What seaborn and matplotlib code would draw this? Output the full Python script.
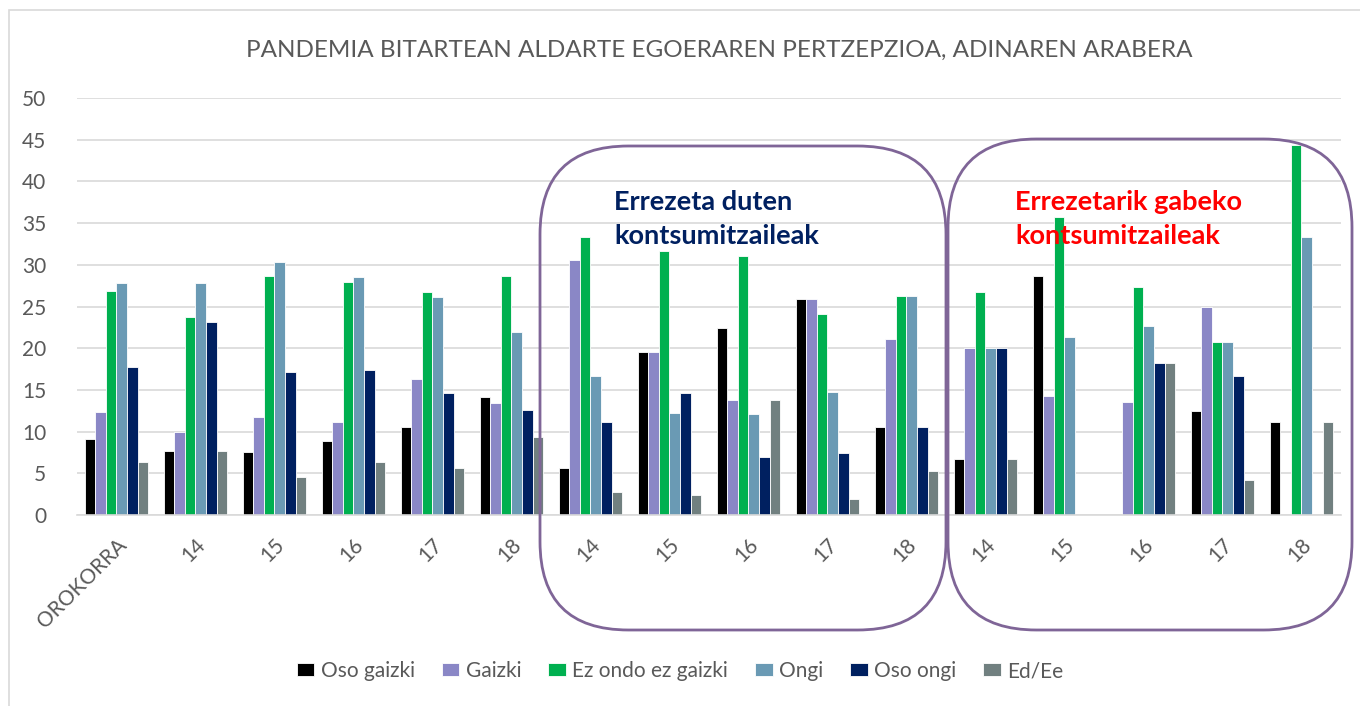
import matplotlib
matplotlib.use("Agg")
import matplotlib.pyplot as plt
from matplotlib.patches import FancyBboxPatch, Rectangle
import numpy as np
import pandas as pd
import seaborn as sns

# Datos
etiquetas = ["OROKORRA", "14", "15", "16", "17", "18",
             "14", "15", "16", "17", "18",
             "14", "15", "16", "17", "18"]
series = ["Oso gaizki", "Gaizki", "Ez ondo ez gaizki", "Ongi", "Oso ongi", "Ed/Ee"]

oso_gaizki = [9.1, 7.7, 7.6, 8.9, 10.5, 14.1, 5.6, 19.5, 22.4, 25.9, 10.5, 6.7, 28.6, 0.0, 12.5, 11.1]
gaizki = [12.3, 10.0, 11.7, 11.1, 16.3, 13.4, 30.6, 19.5, 13.8, 25.9, 21.1, 20.0, 14.3, 13.6, 25.0, 0.0]
ez_ondo = [26.9, 23.8, 28.7, 27.9, 26.7, 28.6, 33.3, 31.7, 31.0, 24.1, 26.3, 26.7, 35.7, 27.3, 20.8, 44.4]
ongi = [27.8, 27.8, 30.3, 28.5, 26.2, 21.9, 16.7, 12.2, 12.1, 14.8, 26.3, 20.0, 21.4, 22.7, 20.8, 33.3]
oso_ongi = [17.7, 23.1, 17.1, 17.4, 14.6, 12.6, 11.1, 14.6, 6.9, 7.4, 10.5, 20.0, 0.0, 18.2, 16.7, 0.0]
ed_ee = [6.3, 7.7, 4.6, 6.4, 5.6, 9.3, 2.8, 2.4, 13.8, 1.9, 5.3, 6.7, 0.0, 18.2, 4.2, 11.1]

koloreak = ["#000000", "#8A87C6", "#00B050", "#6A9AB4", "#002060", "#718080"]

# Tabla larga para seaborn
ids = [f"g{i}" for i in range(len(etiquetas))]
balioak = [oso_gaizki, gaizki, ez_ondo, ongi, oso_ongi, ed_ee]
df = pd.DataFrame({
    "taldea": np.tile(ids, len(series)),
    "serie": np.repeat(series, len(ids)),
    "balioa": np.concatenate(balioak),
})

sns.set_style("white")
plt.rcParams["font.family"] = ["Lato", "DejaVu Sans"]

fig = plt.figure(figsize=(13.6, 7.06), dpi=100)
ax = fig.add_axes([0.0566, 0.2705, 0.9294, 0.5907])

sns.barplot(data=df, x="taldea", y="balioa", hue="serie", order=ids,
            hue_order=series, palette=koloreak, saturation=1, width=0.8, gap=0,
            edgecolor="white", linewidth=0.6, legend=True, ax=ax)

ax.set_ylim(0, 50)
ax.set_xlim(-0.5, len(ids) - 0.5)
ax.set_yticks(range(0, 51, 5))
ax.yaxis.grid(True, color="#D9D9D9", linewidth=1.2)
ax.set_axisbelow(True)
for s in ["top", "right", "left"]:
    ax.spines[s].set_visible(False)
ax.spines["bottom"].set_color("#D9D9D9")
ax.spines["bottom"].set_linewidth(1.2)
ax.set_xlabel("")
ax.set_ylabel("")
ax.set_xticks(range(len(ids)))
ax.set_xticklabels(etiquetas, rotation=45, ha="right", rotation_mode="anchor")
ax.tick_params(axis="both", length=0, labelsize=15, colors="#595959")
ax.tick_params(axis="x", pad=14)
ax.tick_params(axis="y", pad=22)

ax.legend(loc="center", frameon=False, ncol=6, fontsize=15, handlelength=0.85,
          handleheight=0.6, handletextpad=0.3, columnspacing=1.3, labelcolor="#595959")
leg = ax.get_legend()
leg.set_bbox_to_anchor((0.5, 1 - 671 / 706), transform=fig.transFigure)

fig.text(0.529, 1 - 50 / 706, "PANDEMIA BITARTEAN ALDARTE EGOERAREN PERTZEPZIOA, ADINAREN ARABERA",
         ha="center", va="center", fontsize=17.5, color="#595959")

# Kanpoko ertza
fig.patches.append(Rectangle((9 / 1360, -0.1), 1.2, 1 - 10 / 706 + 0.1,
                             transform=fig.transFigure, fill=False,
                             edgecolor="#D9D9D9", linewidth=1.2))

# Talde laukiak
def laukia(x0, y0, x1, y1):
    w = (x1 - x0) / 1360
    h = (y1 - y0) / 706
    p = FancyBboxPatch((x0 / 1360, 1 - y1 / 706), w, h,
                       boxstyle="round,pad=0,rounding_size=0.065",
                       mutation_aspect=1360 / 706,
                       transform=fig.transFigure, fill=False,
                       edgecolor="#7F6597", linewidth=2)
    fig.patches.append(p)

laukia(540, 146, 946, 630)
laukia(948, 139, 1352, 630)

fig.text(614 / 1360, 1 - 219 / 706, "Errezeta duten\nkontsumitzaileak", ha="left", va="center",
         fontsize=19.5, fontweight="bold", color="#002060", linespacing=1.45)
fig.text(1015 / 1360, 1 - 219 / 706, "Errezetarik gabeko\nkontsumitzaileak", ha="left", va="center",
         fontsize=19.5, fontweight="bold", color="#FF0000", linespacing=1.45)

fig.savefig("out.png", dpi=100)
